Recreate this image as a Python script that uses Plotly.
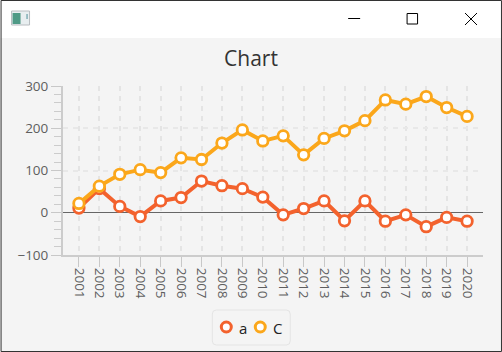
import plotly.graph_objects as go

years = ["2001","2002","2003","2004","2005","2006","2007","2008","2009","2010",
         "2011","2012","2013","2014","2015","2016","2017","2018","2019","2020"]
series_a = [11, 57, 15, -9, 28, 36, 75, 64, 57, 37, -5, 10, 28, -19, 28, -20, -5, -33, -11, -20]
series_c = [22, 63, 91, 102, 95, 130, 126, 165, 196, 170, 182, 137, 176, 194, 218, 267, 257, 275, 249, 228]
y_ticks = [-100, 0, 100, 200, 300]
title_text = "Chart"
legend_names = ["a", "C"]

W, H = 502, 352
FONT = "Open Sans, Noto Sans, sans-serif"
ORANGE = "#f3622d"
AMBER = "#fba71b"
L, R, T, B = 62.5, 483, 86, 255

def px(x):
    return (x - L) / (R - L)

def py(y):
    return (B - y) / (B - T)

def rect(x0, y0, x1, y1, fill="rgba(0,0,0,0)", line="rgba(0,0,0,0)", lw=0, layer="below"):
    return dict(type="rect", xref="paper", yref="paper", x0=px(x0), x1=px(x1), y0=py(y1), y1=py(y0),
                fillcolor=fill, line=dict(color=line, width=lw), layer=layer)

def seg(x0, y0, x1, y1, color="#000", lw=1):
    return dict(type="line", xref="paper", yref="paper", x0=px(x0), x1=px(x1), y0=py(y0), y1=py(y1),
                line=dict(color=color, width=lw), layer="above")

def ring(cx, cy, col):
    return dict(type="circle", xref="paper", yref="paper", x0=px(cx - 5), x1=px(cx + 5), y0=py(cy + 5), y1=py(cy - 5),
                fillcolor="#ffffff", line=dict(color=col, width=3), layer="above")

fig = go.Figure()
for name, vals, col in [(legend_names[0], series_a, ORANGE), (legend_names[1], series_c, AMBER)]:
    fig.add_trace(go.Scatter(
        x=years, y=vals, name=name, mode="lines+markers", cliponaxis=False,
        line=dict(color=col, width=4),
        marker=dict(size=10.5, color="#ffffff", line=dict(color=col, width=2.8)),
    ))

shapes = [
    rect(0, 0, W, 38, fill="#ffffff"),
    rect(11, 11, 29, 25, fill="#e8eef0", line="#b8bcc0", lw=1),
    rect(12, 13, 20, 24, fill="#4f9a86"),
    rect(26, 14, 27, 19, fill="#4f8f9a"),
    seg(348, 18.5, 360, 18.5),
    rect(407, 13.5, 417.5, 24, line="#000000", lw=1, layer="above"),
    seg(465, 13, 477, 25),
    seg(477, 13, 465, 25),
    dict(type="path", xref="paper", yref="paper", layer="below",
         path=(f"M {px(216)} {py(310)} L {px(286)} {py(310)} Q {px(290)} {py(310)} {px(290)} {py(314)} "
               f"L {px(290)} {py(341)} Q {px(290)} {py(345)} {px(286)} {py(345)} L {px(216)} {py(345)} "
               f"Q {px(212)} {py(345)} {px(212)} {py(341)} L {px(212)} {py(314)} Q {px(212)} {py(310)} {px(216)} {py(310)} Z"),
         fillcolor="#f4f4f4", line=dict(color="#e4e4e4", width=1)),
    ring(226, 327, ORANGE),
    ring(260, 327, AMBER),
    rect(0.5, 0.5, W - 0.5, H - 0.5, line="#333333", lw=1, layer="above"),
]

annotations = [
    dict(xref="paper", yref="paper", x=px(237), y=py(328), text=legend_names[0], showarrow=False,
         xanchor="left", yanchor="middle", font=dict(family=FONT, size=15, color="#222222")),
    dict(xref="paper", yref="paper", x=px(271), y=py(328), text=legend_names[1], showarrow=False,
         xanchor="left", yanchor="middle", font=dict(family=FONT, size=15, color="#222222")),
]

fig.update_layout(
    width=W, height=H, autosize=False,
    margin=dict(l=L, r=W - R, t=T, b=H - B, pad=0),
    paper_bgcolor="#f4f4f4", plot_bgcolor="#f4f4f4",
    font=dict(family=FONT, size=13.5, color="#5e5e5e"),
    title=dict(text=title_text, x=0.5, xanchor="center", y=1 - 59 / H, yanchor="middle",
               font=dict(family=FONT, size=21, color="#333333")),
    showlegend=False,
    shapes=shapes,
    annotations=annotations,
    xaxis=dict(type="category", categoryorder="array", categoryarray=years, range=[-0.78, 19.78],
               tickmode="array", tickvals=years, ticktext=years, tickangle=90,
               ticks="outside", ticklen=10, tickwidth=1, tickcolor="#c8c8c8", ticklabelstandoff=-2,
               showline=True, linecolor="#cccccc", linewidth=2,
               showgrid=True, gridcolor="#e4e4e4", griddash="5px,5px", gridwidth=2,
               zeroline=False, automargin=False),
    yaxis=dict(range=[-100, 300], tickmode="array", tickvals=y_ticks,
               ticks="outside", ticklen=10, tickwidth=1, tickcolor="#c8c8c8",
               showline=True, linecolor="#cccccc", linewidth=2,
               showgrid=True, gridcolor="#e8e8e8", griddash="5px,5px", gridwidth=2,
               zeroline=True, zerolinecolor="#666666", zerolinewidth=1,
               minor=dict(dtick=20, tick0=0, ticks="outside", ticklen=7, tickwidth=1, tickcolor="#cccccc", showgrid=False),
               automargin=False),
)

fig.write_html("out.html", config={"displayModeBar": False},
               post_script="document.body.style.margin='0';document.body.style.overflow='hidden';")
